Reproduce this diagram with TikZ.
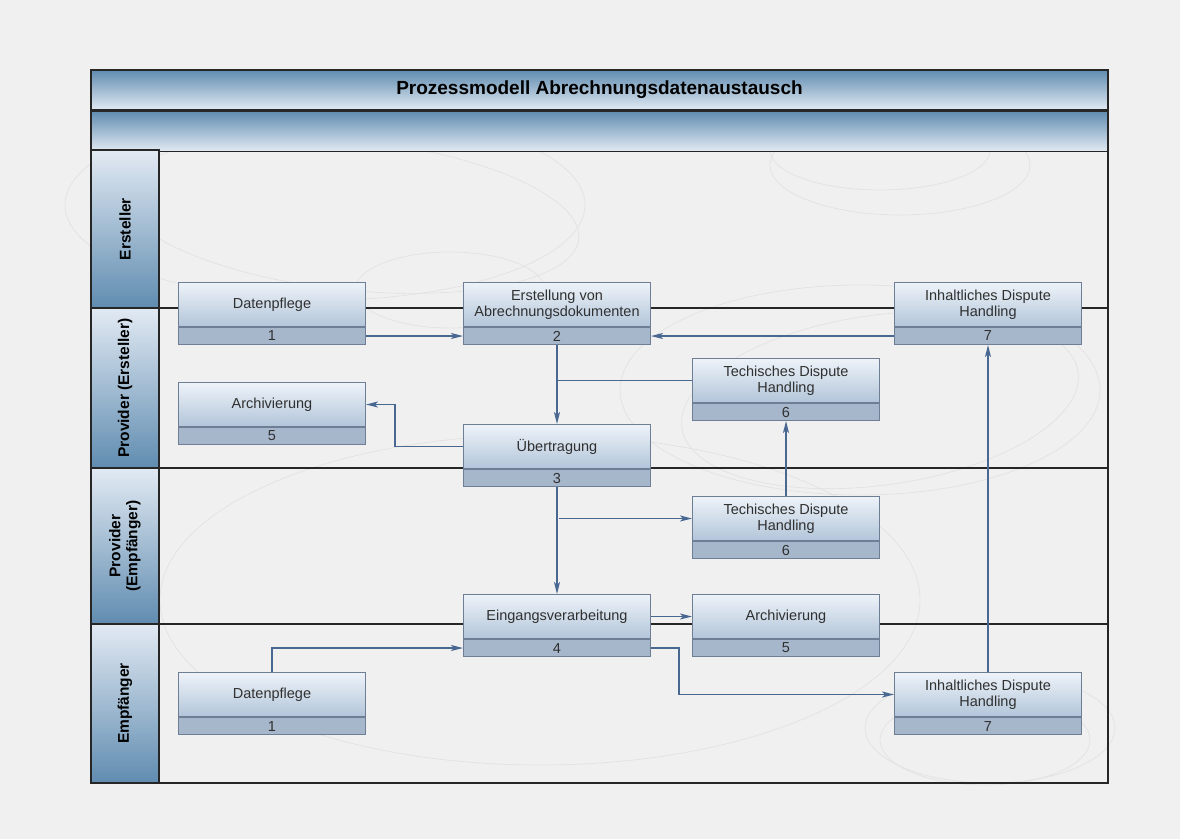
\documentclass[tikz,border=0pt]{standalone}
\usepackage{fontspec}
\setmainfont{Liberation Sans}
\usetikzlibrary{positioning, arrows.meta}

\definecolor{bgray}{RGB}{240,240,240}
\definecolor{swirl}{RGB}{226,226,226}
\definecolor{barDark}{RGB}{96,140,176}
\definecolor{barLight}{RGB}{226,234,243}
\definecolor{boxTop}{RGB}{238,243,249}
\definecolor{boxBot}{RGB}{178,197,217}
\definecolor{boxNum}{RGB}{166,182,203}
\definecolor{boxLine}{RGB}{110,126,148}
\definecolor{flow}{RGB}{72,104,146}
\definecolor{frame}{RGB}{38,38,38}
\definecolor{boxText}{RGB}{48,48,48}

\begin{document}
\begin{tikzpicture}[x = 1pt, y = -1pt, % pixel grid, y downwards
                > = {Stealth[length=12pt, width=6pt, inset=3pt]}, % arrow head style
                node distance = 0pt, % boxes stacked on each other
                semithick % line style
            ]

            \tikzstyle{titlebar}=[draw = frame, line width = 1.2pt, top color = barDark,
            bottom color = barLight, minimum width = 1017pt, minimum height = 40pt,
            inner sep = 0pt, font = \fontsize{19}{22}\selectfont\bfseries]
            \tikzstyle{lanehead}=[draw = frame, line width = 1.2pt, top color = barLight,
            bottom color = barDark, minimum width = 68pt, inner sep = 0pt]
            \tikzstyle{lanetext}=[rotate = 90, align = center, inner sep = 0pt,
            font = \fontsize{15.5}{17}\selectfont\bfseries]
            \tikzstyle{proc}=[draw = boxLine, line width = 1pt, top color = boxTop,
            bottom color = boxBot, minimum width = 187pt, minimum height = 44pt,
            anchor = north west, align = center, inner sep = 0pt, text = boxText,
            font = \fontsize{14.5}{16.5}\selectfont]
            \tikzstyle{procnum}=[draw = boxLine, line width = 1pt, fill = boxNum,
            minimum width = 187pt, minimum height = 17pt, inner sep = 0pt,
            text = boxText, font = \fontsize{14.5}{16}\selectfont]
            \tikzstyle{flowline}=[draw = flow, line width = 1.2pt]

            \useasboundingbox[fill = bgray] (0,0) rectangle (1180,839);

            % faint swirls in the background
            \begin{scope}[draw = swirl, line width = 0.7pt]
            \draw (325,205) ellipse [x radius = 260, y radius = 95];
            \draw[rotate around = {-6:(350,215)}] (350,215) ellipse [x radius = 230, y radius = 75];
            \draw (450,290) ellipse [x radius = 95, y radius = 38];
            \draw (880,150) ellipse [x radius = 110, y radius = 40];
            \draw (900,165) ellipse [x radius = 130, y radius = 50];
            \draw (860,390) ellipse [x radius = 240, y radius = 105];
            \draw[rotate around = {8:(880,400)}] (880,400) ellipse [x radius = 200, y radius = 85];
            \draw (540,600) ellipse [x radius = 380, y radius = 165];
            \draw (990,728) ellipse [x radius = 125, y radius = 55];
            \draw (985,740) ellipse [x radius = 105, y radius = 45];
            \end{scope}

            % header bars
            \node (title) [titlebar] at (599.5,90) {Prozessmodell Abrechnungsdatenaustausch};
            \node (subbar) [titlebar, below = of title] {};

            % lanes
            \draw[frame, line width = 1.2pt] (91,70) rectangle (1108,783);
            \draw[frame, line width = 1.1pt] (159,308) -- (1108,308);
            \draw[frame, line width = 1.1pt] (159,468) -- (1108,468);
            \draw[frame, line width = 1.1pt] (159,624) -- (1108,624);

            \node (l1) [lanehead, minimum height = 158pt] at (125,229) {};
            \node (l2) [lanehead, minimum height = 160pt] at (125,388) {};
            \node (l3) [lanehead, minimum height = 156pt] at (125,546) {};
            \node (l4) [lanehead, minimum height = 159pt] at (125,703.5) {};
            \node [lanetext] at (l1) {Ersteller};
            \node [lanetext] at (l2) {Provider (Ersteller)};
            \node [lanetext] at (l3) {Provider\\(Empfänger)};
            \node [lanetext] at (l4) {Empfänger};

            % process steps
            \node (dpA) [proc] at (178,282) {Datenpflege};
            \node (dpAn) [procnum, below = of dpA] {1};
            \node (erst) [proc] at (463,282) {Erstellung von\\Abrechnungsdokumenten};
            \node (erstn) [procnum, below = of erst] {2};
            \node (inhA) [proc] at (894,282) {Inhaltliches Dispute\\Handling};
            \node (inhAn) [procnum, below = of inhA] {7};
            \node (techA) [proc] at (692,358) {Techisches Dispute\\Handling};
            \node (techAn) [procnum, below = of techA] {6};
            \node (archA) [proc] at (178,382) {Archivierung};
            \node (archAn) [procnum, below = of archA] {5};
            \node (uebt) [proc] at (463,424) {Übertragung};
            \node (uebtn) [procnum, below = of uebt] {3};
            \node (techB) [proc] at (692,496) {Techisches Dispute\\Handling};
            \node (techBn) [procnum, below = of techB] {6};
            \node (eing) [proc] at (463,594) {Eingangsverarbeitung};
            \node (eingn) [procnum, below = of eing] {4};
            \node (archB) [proc] at (692,594) {Archivierung};
            \node (archBn) [procnum, below = of archB] {5};
            \node (dpB) [proc] at (178,672) {Datenpflege};
            \node (dpBn) [procnum, below = of dpB] {1};
            \node (inhB) [proc] at (894,672) {Inhaltliches Dispute\\Handling};
            \node (inhBn) [procnum, below = of inhB] {7};

            % flows
            \path[flowline, ->] (dpAn.east) -- (erstn.west);
            \path[flowline, ->] (inhAn.west) -- (erstn.east);
            \path[flowline, ->] (erstn.south) -- (uebt.north);
            \path[flowline] (techA.west) -- (techA.west -| erstn.south);
            \path[flowline, ->] (uebt.west) -- ++(-68,0) |- (archA.east);
            \path[flowline, ->] (uebtn.south) -- (eing.north);
            \path[flowline, ->] ([xshift = 2pt]uebtn.south |- techB.west) -- (techB.west);
            \path[flowline, ->] (techB.north) -- (techAn.south);
            \path[flowline, ->] (eing.east) -- (archB.west);
            \path[flowline, ->] (eingn.east) -- ++(28,0) |- (inhB.west);
            \path[flowline, ->] (dpB.north) |- (eingn.west);
            \path[flowline, ->] (inhB.north) -- (inhAn.south);
\end{tikzpicture}
\end{document}
